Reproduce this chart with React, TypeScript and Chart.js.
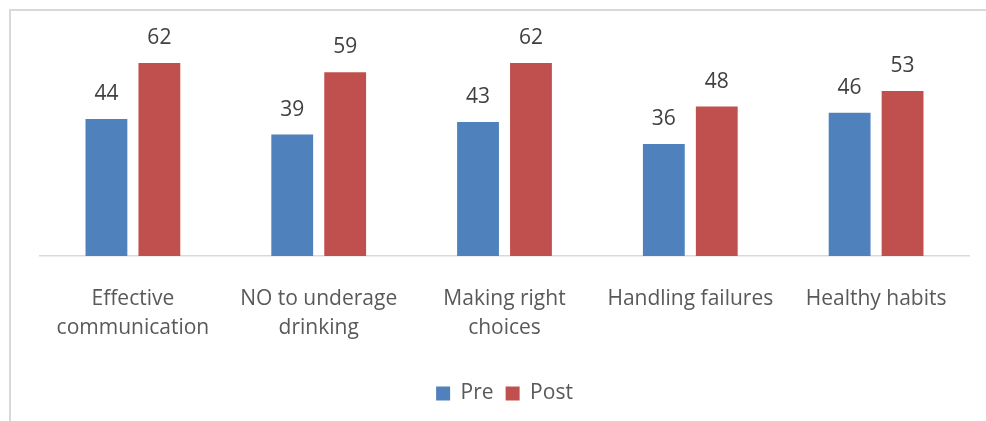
import React, { useEffect, useRef } from "react";
import { Chart, registerables } from "chart.js";

Chart.register(...registerables);

const categories: string[][] = [
  ["Effective", "communication"],
  ["NO to underage", "drinking"],
  ["Making right", "choices"],
  ["Handling failures"],
  ["Healthy habits"],
];
const preValues = [44, 39, 43, 36, 46];
const postValues = [62, 59, 62, 48, 53];
const seriesNames = ["Pre", "Post"];
const yMax = 70;

const FONT = "'Open Sans', 'Noto Sans', sans-serif";

const frameAndLabels = {
  id: "frameAndLabels",
  beforeDraw(chart: any) {
    const ctx = chart.ctx;
    ctx.save();
    ctx.fillStyle = "#ffffff";
    ctx.fillRect(0, 0, chart.width, chart.height);
    ctx.strokeStyle = "#d9d9d9";
    ctx.lineWidth = 2;
    ctx.beginPath();
    ctx.moveTo(10, chart.height);
    ctx.lineTo(10, 10);
    ctx.lineTo(chart.width, 10);
    ctx.stroke();
    ctx.restore();
  },
  afterDatasetsDraw(chart: any) {
    const ctx = chart.ctx;
    ctx.save();
    ctx.font = `21px ${FONT}`;
    ctx.fillStyle = "#404040";
    ctx.textAlign = "center";
    ctx.textBaseline = "alphabetic";
    chart.data.datasets.forEach((ds: any, i: number) => {
      const meta = chart.getDatasetMeta(i);
      meta.data.forEach((el: any, j: number) => {
        ctx.fillText(String(ds.data[j]), el.x, el.y - 19);
      });
    });
    ctx.restore();
  },
};

export default function App() {
  const ref = useRef<HTMLCanvasElement | null>(null);
  useEffect(() => {
    if (!ref.current) return;
    const chart = new Chart(ref.current, {
      type: "bar",
      data: {
        labels: categories,
        datasets: [
          {
            label: seriesNames[0],
            data: preValues,
            backgroundColor: "#4f81bd",
            categoryPercentage: 0.57,
            barPercentage: 0.79,
          },
          {
            label: seriesNames[1],
            data: postValues,
            backgroundColor: "#c0504d",
            categoryPercentage: 0.57,
            barPercentage: 0.79,
          },
        ],
      },
      options: {
        responsive: false,
        animation: false,
        layout: { padding: { left: 40, right: 17, top: 38, bottom: 7 } },
        plugins: {
          legend: {
            position: "bottom",
            labels: {
              font: { family: FONT, size: 21 },
              color: "#595959",
              boxWidth: 14,
              boxHeight: 14,
              padding: 12,
            },
          },
          tooltip: { enabled: false },
        },
        scales: {
          y: { display: false, min: 0, max: yMax },
          x: {
            grid: { display: false, drawTicks: false },
            border: { display: true, color: "#d9d9d9", width: 1.5 },
            ticks: {
              font: { family: FONT, size: 21, lineHeight: 1.38 },
              color: "#595959",
              padding: 29,
              maxRotation: 0,
              autoSkip: false,
            },
            afterFit(scale: any) {
              scale.height = 115;
            },
          },
        },
      },
      plugins: [frameAndLabels],
    });
    return () => chart.destroy();
  }, []);
  return (
    <div style={{ position: "fixed", left: 0, top: 0, width: 986, height: 421 }}>
      <canvas ref={ref} width={986} height={421} style={{ display: "block" }} />
    </div>
  );
}
